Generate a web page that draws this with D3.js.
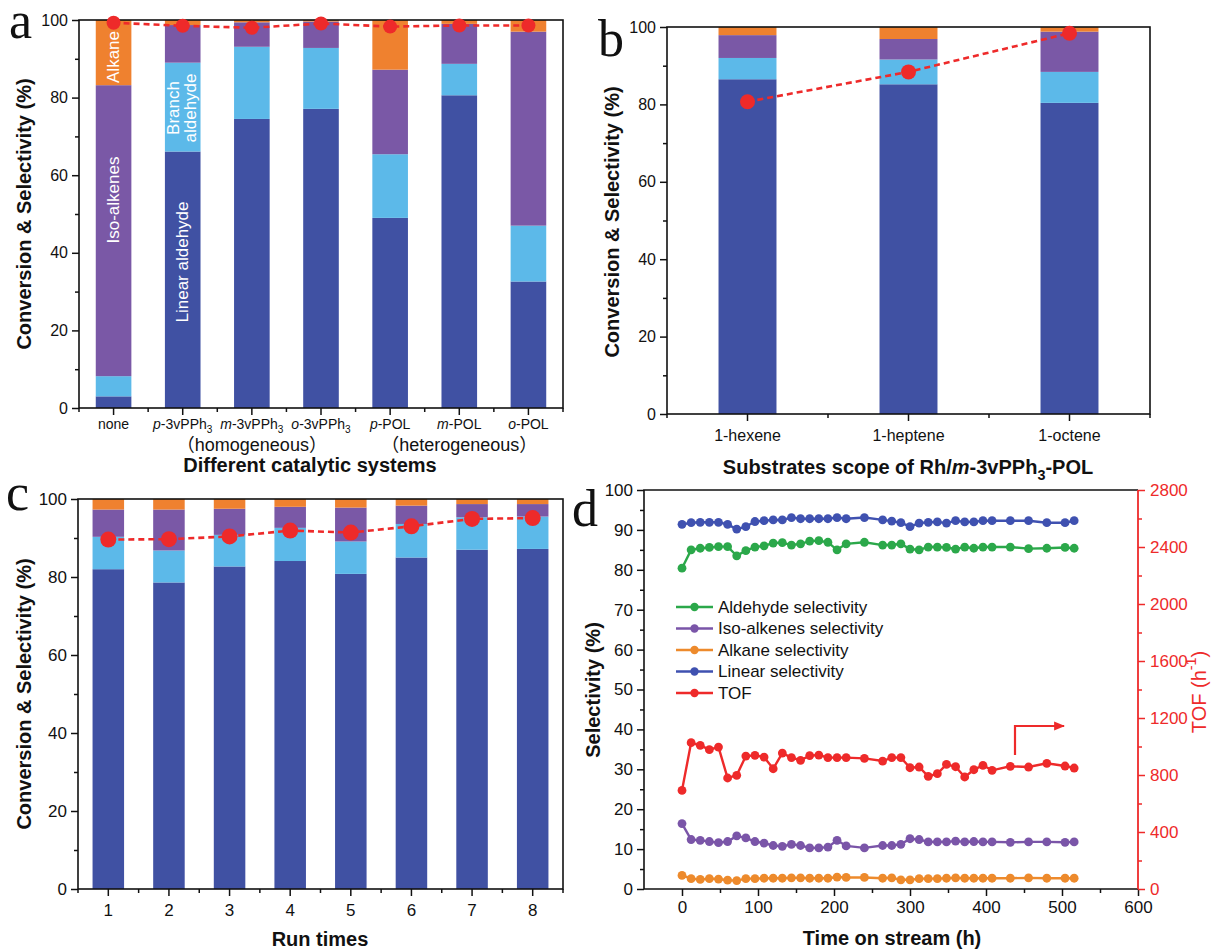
<!DOCTYPE html>
<html>
<head>
<meta charset="utf-8">
<script src="https://cdn.jsdelivr.net/npm/d3@7"></script>
<style>
  body { margin: 0; background: #fff; }
  svg { display: block; }
  text { font-family: "Liberation Sans", Arial, "Noto Sans CJK SC", sans-serif; fill: #111; }
</style>
</head>
<body>
<svg id="chart" width="1211" height="949"></svg>
<script>
/*
------------------------------
DATA: values
------------------------------
*/
// panel a - different catalytic systems
const systemsA = ["none", "*p*-3vPPh_{3}", "*m*-3vPPh_{3}", "*o*-3vPPh_{3}", "*p*-POL", "*m*-POL", "*o*-POL"];
const linearA = [3.0, 66.1, 74.5, 77.1, 49.0, 80.6, 32.6];
const branchA = [5.2, 22.9, 18.6, 15.7, 16.4, 8.1, 14.4];
const isoA = [75.0, 9.7, 6.3, 6.8, 21.8, 10.3, 50.0];
const alkaneA = [16.8, 1.3, 0.6, 0.4, 12.8, 1.0, 3.0];
const convA = [99.3, 98.5, 98.0, 99.1, 98.3, 98.6, 98.6];

// panel b - substrates
const substratesB = ["1-hexene", "1-heptene", "1-octene"];
const linearB = [86.5, 85.2, 80.4];
const branchB = [5.5, 6.4, 8.0];
const isoB = [5.9, 5.3, 10.4];
const alkaneB = [2.1, 3.1, 1.2];
const convB = [80.7, 88.4, 98.4];

// panel c - recycling runs
const runsC = ["1", "2", "3", "4", "5", "6", "7", "8"];
const linearC = [82.0, 78.6, 82.7, 84.1, 80.8, 85.0, 87.0, 87.2];
const branchC = [8.3, 8.2, 8.1, 8.5, 8.3, 8.6, 8.3, 8.3];
const isoC = [7.0, 10.5, 6.7, 5.4, 8.7, 4.7, 3.4, 3.2];
const alkaneC = [2.7, 2.7, 2.5, 2.0, 2.2, 1.7, 1.3, 1.3];
const convC = [89.6, 89.7, 90.4, 91.9, 91.4, 93.0, 94.9, 95.1];

// panel d - time on stream
const timeD = [0, 12, 24, 36, 48, 60, 72, 84, 96, 108, 120, 132, 144, 156, 168, 180, 192, 204, 216, 240,
               264, 276, 288, 300, 312, 324, 336, 348, 360, 372, 384, 396, 408, 432, 456, 480, 504, 516];
const aldehydeD = [80.4, 85.0, 85.4, 85.6, 85.8, 85.8, 83.5, 84.8, 85.7, 86.0, 86.7, 86.8, 86.2, 86.5, 87.2, 87.3, 86.9, 85.0, 86.5, 86.9,
                   86.2, 86.2, 86.5, 85.2, 85.0, 85.7, 85.7, 85.6, 85.2, 85.7, 85.4, 85.7, 85.7, 85.7, 85.3, 85.4, 85.6, 85.4];
const isoD = [16.4, 12.4, 12.2, 11.9, 11.6, 11.9, 13.3, 12.8, 11.9, 11.5, 10.9, 10.7, 11.2, 10.9, 10.3, 10.3, 10.5, 12.2, 10.8, 10.3,
              10.9, 10.9, 11.2, 12.6, 12.4, 11.8, 11.8, 11.8, 12.0, 11.8, 11.9, 11.8, 11.8, 11.7, 11.8, 11.8, 11.7, 11.8];
const alkaneD = [3.4, 2.6, 2.4, 2.6, 2.5, 2.2, 2.1, 2.6, 2.6, 2.7, 2.7, 2.7, 2.8, 2.8, 2.7, 2.7, 2.7, 3.0, 2.9, 2.9,
                 2.7, 2.8, 2.3, 2.3, 2.6, 2.6, 2.6, 2.7, 2.8, 2.7, 2.7, 2.7, 2.7, 2.7, 2.8, 2.7, 2.7, 2.7];
const linearD = [91.4, 91.8, 91.9, 91.9, 91.9, 91.4, 90.2, 90.8, 92.1, 92.3, 92.5, 92.5, 93.1, 92.8, 92.8, 92.8, 92.8, 93.1, 92.8, 93.1,
                 92.5, 92.2, 91.8, 90.8, 91.7, 91.9, 92.0, 91.7, 92.3, 92.0, 92.0, 92.3, 92.3, 92.3, 92.3, 91.8, 91.8, 92.3];
const tofD = [692, 1027, 1008, 978, 996, 779, 798, 933, 938, 926, 844, 954, 922, 903, 936, 940, 922, 922, 922, 917,
              898, 922, 922, 851, 856, 791, 809, 875, 858, 786, 837, 868, 833, 861, 856, 882, 863, 849];

// tick values
const barTicks = [0, 20, 40, 60, 80, 100];
const barMinor = [10, 30, 50, 70, 90];
const dLeftTicks = d3.range(0, 101, 10);
const dRightTicks = d3.range(0, 2801, 400);
const dTimeTicks = d3.range(0, 601, 100);

const stackKeys = ["linear", "branch", "iso", "alkane"];
const stackColors = { linear: "#4051a3", branch: "#5cb9e9", iso: "#7a58a6", alkane: "#ef812f" };
const RED = "#ee2a2a";

const svg = d3.select("#chart");

/*
------------------------------
METHOD: write text with simple markup: *italic*, _{sub}, ^{sup}
------------------------------
*/
function rich(text, str, size) {
    const re = /\*([^*]+)\*|_\{([^}]+)\}|\^\{([^}]+)\}|([^*_^]+)/g;
    let m, shift = 0;
    while ((m = re.exec(str))) {
        const t = text.append("tspan");
        let dy;
        if (m[1]) { t.text(m[1]).style("font-style", "italic"); dy = -shift; shift = 0; }
        else if (m[2]) { t.text(m[2]).attr("font-size", size * 0.72); dy = size * 0.3 - shift; shift = size * 0.3; }
        else if (m[3]) { t.text(m[3]).attr("font-size", size * 0.72); dy = -size * 0.4 - shift; shift = -size * 0.4; }
        else { t.text(m[4]); dy = -shift; shift = 0; }
        if (dy) t.attr("dy", dy);
    }
    return text;
}

function panelLetter(ch, x, y) {
    svg.append("text").attr("x", x).attr("y", y).text(ch)
        .style("font-family", "'Liberation Serif', 'Times New Roman', serif")
        .attr("font-size", 52);
}

function yTitle(str, x, y, color) {
    const t = svg.append("text")
        .attr("transform", `translate(${x},${y}) rotate(-90)`)
        .attr("text-anchor", "middle").attr("dominant-baseline", "central")
        .attr("font-size", 20).attr("font-weight", "bold");
    if (color) t.style("fill", color).attr("font-weight", "normal");
    rich(t, str, 20);
}

/*
------------------------------
METHOD: stacked bar panel with conversion dots
------------------------------
*/
function barPanel(o) {
    const g = svg.append("g");
    const x = d3.scaleBand().domain(o.cats).range([o.left, o.right]);
    const y = d3.scaleLinear().domain([0, 100]).range([o.bottom, o.top]);
    const bw = x.bandwidth() * o.ratio;

    const rows = o.cats.map((c, i) => ({
        cat: c, linear: o.linear[i], branch: o.branch[i], iso: o.iso[i], alkane: o.alkane[i]
    }));
    const series = d3.stack().keys(stackKeys)(rows);

    g.selectAll("g.layer")
        .data(series)
        .join("g")
        .attr("fill", d => stackColors[d.key])
        .selectAll("rect")
        .data(d => d)
        .join("rect")
        .attr("x", d => x(d.data.cat) + (x.bandwidth() - bw) / 2)
        .attr("y", d => y(Math.min(100, d[1])))
        .attr("width", bw)
        .attr("height", d => y(d[0]) - y(Math.min(100, d[1])));

    // y axis major + minor
    const ya = g.append("g").attr("transform", `translate(${o.left},0)`)
        .call(d3.axisLeft(y).tickValues(barTicks).tickSize(7).tickSizeOuter(0).tickPadding(4));
    ya.selectAll("text").attr("font-size", o.yFont).style("font-family", null);
    g.append("g").attr("transform", `translate(${o.left},0)`)
        .call(d3.axisLeft(y).tickValues(barMinor).tickSize(4).tickFormat(""));

    // x axis major ticks at centres, minor at band edges
    g.append("g").attr("transform", `translate(0,${o.bottom})`)
        .call(d3.axisBottom(x).tickSize(7).tickSizeOuter(0).tickFormat(""));
    const edges = o.cats.map(c => x(c)).concat([o.right]);
    g.selectAll("line.minor").data(edges).join("line")
        .attr("x1", d => d).attr("x2", d => d)
        .attr("y1", o.bottom).attr("y2", o.bottom + 4)
        .attr("stroke", "#111").attr("stroke-width", 1.5);

    g.selectAll(".domain").remove();
    g.selectAll(".tick line").attr("stroke", "#111").attr("stroke-width", 1.5);

    o.cats.forEach(c => {
        const t = g.append("text").attr("x", x(c) + x.bandwidth() / 2).attr("y", o.labelY)
            .attr("text-anchor", "middle").attr("font-size", o.xFont);
        rich(t, c, o.xFont);
    });

    // frame
    g.append("rect").attr("x", o.left).attr("y", o.top)
        .attr("width", o.right - o.left).attr("height", o.bottom - o.top)
        .attr("fill", "none").attr("stroke", "#111").attr("stroke-width", 1.6);

    // conversion
    const cx = c => x(c) + x.bandwidth() / 2;
    g.append("path")
        .datum(o.conv)
        .attr("d", d3.line().x((v, i) => cx(o.cats[i])).y(v => y(v)))
        .attr("fill", "none").attr("stroke", RED).attr("stroke-width", 2.6)
        .attr("stroke-dasharray", "6,4");
    g.selectAll("circle.conv").data(o.conv).join("circle")
        .attr("cx", (v, i) => cx(o.cats[i])).attr("cy", v => y(v))
        .attr("r", o.dotR).attr("fill", RED);

    return { x, y, g };
}

/* ---------- panel a ---------- */
const pa = barPanel({
    cats: systemsA, linear: linearA, branch: branchA, iso: isoA, alkane: alkaneA, conv: convA,
    left: 79, right: 563, top: 20, bottom: 408, ratio: 0.515, dotR: 7,
    yFont: 16, xFont: 14, labelY: 429
});
{
    const xa = pa.x, bwA = xa.bandwidth();
    const c0 = xa(systemsA[0]) + bwA / 2, c1 = xa(systemsA[1]) + bwA / 2;
    const lab = (s, x, y) => pa.g.append("text")
        .attr("transform", `translate(${x},${y}) rotate(-90)`)
        .attr("text-anchor", "middle").attr("dominant-baseline", "central")
        .attr("font-size", 17).style("fill", "#fff").text(s);
    lab("Alkane", c0, 57);
    lab("Iso-alkenes", c0, 200);
    lab("Branch", c1 - 9, 108);
    lab("aldehyde", c1 + 8, 108);
    lab("Linear aldehyde", c1, 262);

    const mid = (a, b) => (xa(systemsA[a]) + xa(systemsA[b]) + bwA) / 2;
    svg.append("text").attr("x", mid(1, 3)).attr("y", 451).attr("text-anchor", "middle")
        .attr("font-size", 18).text("（homogeneous）");
    svg.append("text").attr("x", mid(4, 6)).attr("y", 451).attr("text-anchor", "middle")
        .attr("font-size", 18).text("（heterogeneous）");
}
svg.append("text").attr("x", 310).attr("y", 472).attr("text-anchor", "middle")
    .attr("font-size", 20).attr("font-weight", "bold").text("Different catalytic systems");
yTitle("Conversion & Selectivity (%)", 24, 214);
panelLetter("a", 9, 38);

/* ---------- panel b ---------- */
barPanel({
    cats: substratesB, linear: linearB, branch: branchB, iso: isoB, alkane: alkaneB, conv: convB,
    left: 667, right: 1150, top: 27, bottom: 414, ratio: 0.36, dotR: 7.5,
    yFont: 16, xFont: 16, labelY: 441
});
{
    const t = svg.append("text").attr("x", 908).attr("y", 474).attr("text-anchor", "middle")
        .attr("font-size", 20).attr("font-weight", "bold");
    rich(t, "Substrates scope of Rh/*m*-3vPPh_{3}-POL", 20);
}
yTitle("Conversion & Selectivity (%)", 612, 222);
panelLetter("b", 598, 56);

/* ---------- panel c ---------- */
barPanel({
    cats: runsC, linear: linearC, branch: branchC, iso: isoC, alkane: alkaneC, conv: convC,
    left: 78, right: 563, top: 499, bottom: 889, ratio: 0.52, dotR: 8,
    yFont: 17, xFont: 17, labelY: 916
});
svg.append("text").attr("x", 320).attr("y", 946).attr("text-anchor", "middle")
    .attr("font-size", 20).attr("font-weight", "bold").text("Run times");
yTitle("Conversion & Selectivity (%)", 24, 694);
panelLetter("c", 6, 510);

/* ---------- panel d ---------- */
{
    const L = 644, R = 1138, T = 490, B = 889;
    const x = d3.scaleLinear().domain([-50, 600]).range([L, R]);
    const yL = d3.scaleLinear().domain([0, 100]).range([B, T]);
    const yR = d3.scaleLinear().domain([0, 2800]).range([B, T]);
    const g = svg.append("g");

    const gx = g.append("g").attr("transform", `translate(0,${B})`)
        .call(d3.axisBottom(x).tickValues(dTimeTicks).tickSize(7).tickSizeOuter(0).tickPadding(5));
    gx.selectAll("text").attr("font-size", 17).style("font-family", null);
    g.append("g").attr("transform", `translate(0,${B})`)
        .call(d3.axisBottom(x).tickValues(d3.range(50, 600, 100)).tickSize(4).tickFormat(""));

    const gl = g.append("g").attr("transform", `translate(${L},0)`)
        .call(d3.axisLeft(yL).tickValues(dLeftTicks).tickSize(7).tickSizeOuter(0).tickPadding(4));
    gl.selectAll("text").attr("font-size", 17).style("font-family", null);
    g.append("g").attr("transform", `translate(${L},0)`)
        .call(d3.axisLeft(yL).tickValues(d3.range(5, 100, 10)).tickSize(4).tickFormat(""));

    const gr = g.append("g").attr("transform", `translate(${R},0)`)
        .call(d3.axisRight(yR).tickValues(dRightTicks).tickFormat(d3.format("d"))
            .tickSize(7).tickSizeOuter(0).tickPadding(5));
    gr.selectAll("text").attr("font-size", 17).style("font-family", null).style("fill", RED);
    const gr2 = g.append("g").attr("transform", `translate(${R},0)`)
        .call(d3.axisRight(yR).tickValues(d3.range(200, 2800, 400)).tickSize(4).tickFormat(""));

    g.selectAll(".domain").remove();
    g.selectAll(".tick line").attr("stroke", "#111").attr("stroke-width", 1.5);
    gr.selectAll(".tick line").attr("stroke", RED);
    gr2.selectAll(".tick line").attr("stroke", RED);

    // frame: black left, bottom, top; red right
    g.append("path").attr("d", `M${R},${T}H${L}V${B}H${R}`)
        .attr("fill", "none").attr("stroke", "#111").attr("stroke-width", 1.6);
    g.append("line").attr("x1", R).attr("x2", R).attr("y1", T).attr("y2", B)
        .attr("stroke", RED).attr("stroke-width", 1.8);

    const lines = [
        { name: "Aldehyde selectivity", vals: aldehydeD, color: "#2ba84a", y: yL },
        { name: "Iso-alkenes selectivity", vals: isoD, color: "#7a55a8", y: yL },
        { name: "Alkane selectivity", vals: alkaneD, color: "#ed8a2c", y: yL },
        { name: "Linear selectivity", vals: linearD, color: "#3f51b0", y: yL },
        { name: "TOF", vals: tofD, color: RED, y: yR }
    ];

    lines.forEach(s => {
        g.append("path").datum(s.vals)
            .attr("d", d3.line().x((v, i) => x(timeD[i])).y(v => s.y(v)))
            .attr("fill", "none").attr("stroke", s.color).attr("stroke-width", 2.4);
        g.selectAll(null).data(s.vals).join("circle")
            .attr("cx", (v, i) => x(timeD[i])).attr("cy", v => s.y(v))
            .attr("r", 4.4).attr("fill", s.color);
    });

    // legend
    const lg = g.append("g");
    lines.forEach((s, i) => {
        const yy = 607 + i * 21.5;
        lg.append("line").attr("x1", 676).attr("x2", 713).attr("y1", yy).attr("y2", yy)
            .attr("stroke", s.color).attr("stroke-width", 2.4);
        lg.append("circle").attr("cx", 694.5).attr("cy", yy).attr("r", 4.2).attr("fill", s.color);
        lg.append("text").attr("x", 718).attr("y", yy).attr("dominant-baseline", "central")
            .attr("font-size", 17).text(s.name);
    });

    // arrow pointing to TOF axis
    svg.append("defs").append("marker").attr("id", "ah")
        .attr("viewBox", "0 0 10 10").attr("refX", 9).attr("refY", 5)
        .attr("markerWidth", 5).attr("markerHeight", 5).attr("orient", "auto")
        .append("path").attr("d", "M0,1L10,5L0,9Z").attr("fill", RED);
    g.append("path").attr("d", "M1015,755V726H1064")
        .attr("fill", "none").attr("stroke", RED).attr("stroke-width", 2.2)
        .attr("marker-end", "url(#ah)");

    svg.append("text").attr("x", 892).attr("y", 945).attr("text-anchor", "middle")
        .attr("font-size", 20).attr("font-weight", "bold").text("Time on stream (h)");
    yTitle("Selectivity (%)", 593, 690);
    yTitle("TOF (h^{-1})", 1199, 692, RED);
    panelLetter("d", 572, 526);
}
</script>
</body>
</html>
